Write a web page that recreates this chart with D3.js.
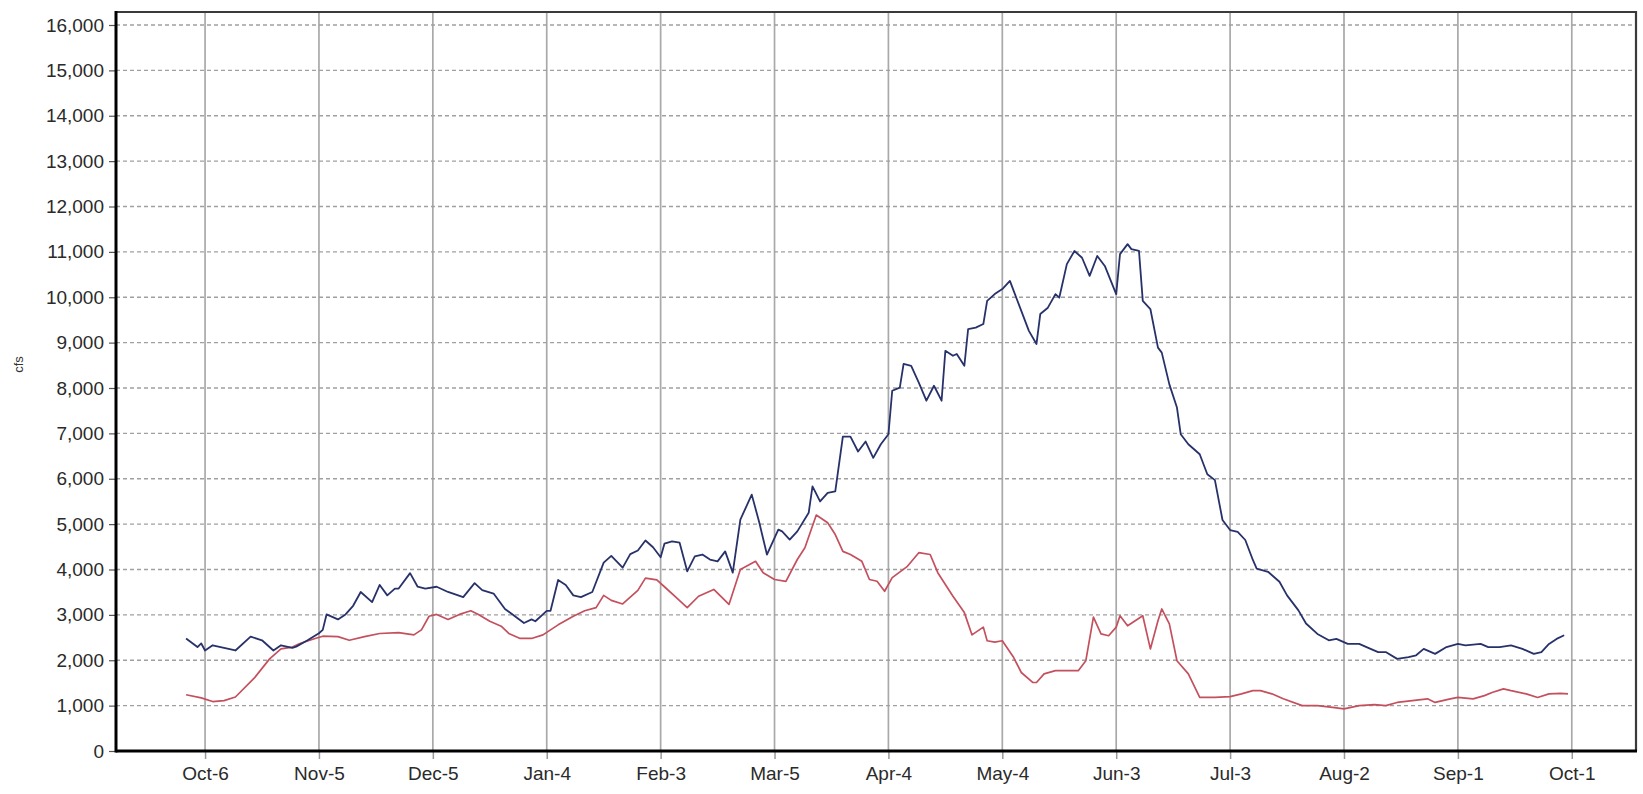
<!DOCTYPE html>
<html>
<head>
<meta charset="utf-8">
<script src="https://cdn.jsdelivr.net/npm/d3@7"></script>
<style>
  html, body { margin: 0; padding: 0; background: #ffffff; }
  svg { display: block; }
  text { font-family: "Liberation Sans", Arial, sans-serif; }
</style>
</head>
<body>
<svg id="chart" width="1643" height="794"></svg>
<script>
// Daily flow, water year 2011 (days counted from 2010-10-01)
const waterYearStart = "2010-10-01";

const flowADays = [0,3,4,5,7,13,17,20,23,25,28,29,32,35,36,37,40,42,44,46,49,51,53,55,56,59,61,63,66,69,73,76,78,81,84,86,89,91,92,95,96,98,100,102,104,107,110,112,115,117,119,121,123,125,126,128,130,132,134,136,138,140,142,144,146,149,151,153,156,157,159,161,164,165,167,169,171,173,175,177,179,181,183,185,186,188,189,191,193,195,197,199,200,202,203,205,206,208,210,211,213,215,217,218,220,222,224,225,227,229,230,232,234,236,238,240,242,245,246,248,249,251,252,254,256,257,259,261,262,264,267,269,271,273,275,277,279,281,282,285,288,290,293,295,298,301,303,306,309,312,314,316,319,322,324,326,329,332,335,337,341,343,346,349,352,355,357,359,361,363];
const flowAValues = [2480,2290,2370,2215,2330,2215,2520,2440,2215,2330,2275,2300,2440,2595,2670,3010,2900,3010,3200,3505,3280,3660,3430,3580,3580,3920,3620,3580,3620,3505,3390,3700,3545,3470,3130,3010,2820,2900,2860,3090,3090,3770,3660,3430,3390,3505,4150,4300,4040,4340,4420,4640,4490,4270,4570,4620,4590,3960,4290,4330,4220,4180,4400,3930,5100,5650,5030,4330,4880,4840,4660,4840,5250,5830,5500,5690,5720,6930,6930,6600,6820,6460,6760,6980,7940,8010,8530,8490,8120,7720,8050,7720,8820,8710,8750,8490,9300,9330,9410,9920,10070,10180,10360,10140,9700,9260,8970,9630,9770,10070,9990,10730,11020,10870,10470,10910,10690,10070,10950,11170,11060,11020,9920,9740,8890,8780,8080,7570,6980,6760,6540,6100,5970,5090,4870,4830,4650,4210,4020,3950,3730,3430,3100,2810,2580,2440,2470,2360,2360,2250,2180,2180,2030,2070,2110,2250,2140,2290,2360,2330,2360,2290,2290,2330,2250,2140,2180,2360,2470,2550];

const flowBDays = [0,4,7,10,13,18,22,25,28,30,34,36,40,43,47,51,56,60,62,64,66,69,72,75,77,80,83,85,88,91,94,96,98,102,105,108,110,112,115,119,121,124,126,129,132,135,139,143,146,150,152,155,158,161,163,166,169,171,173,175,178,180,182,184,186,190,193,196,198,202,205,207,210,211,213,215,218,220,223,224,226,229,232,235,237,239,241,243,245,246,248,250,252,254,256,257,259,261,264,267,271,275,278,281,283,286,289,294,298,302,305,309,313,316,319,323,327,329,333,335,339,342,344,347,349,353,356,359,362,364];
const flowBValues = [1240,1170,1090,1110,1190,1610,2030,2250,2290,2370,2480,2530,2520,2440,2520,2590,2610,2560,2670,2970,3010,2900,3010,3090,3010,2860,2750,2590,2480,2480,2560,2670,2780,2970,3090,3160,3430,3320,3240,3540,3810,3770,3620,3390,3160,3410,3560,3230,4000,4180,3930,3780,3740,4220,4480,5200,5030,4770,4400,4330,4180,3780,3740,3520,3820,4070,4370,4330,3930,3410,3050,2560,2730,2430,2400,2430,2060,1730,1510,1510,1700,1770,1770,1770,1990,2950,2580,2540,2730,2980,2760,2870,2980,2250,2870,3130,2800,1990,1700,1180,1180,1200,1260,1330,1330,1260,1150,1000,1000,960,930,1000,1020,1000,1070,1110,1150,1070,1150,1180,1150,1220,1290,1370,1330,1260,1180,1260,1270,1260];

// Month gridline positions (every 30 days)
const tickDates = ["2010-10-06","2010-11-05","2010-12-05","2011-01-04","2011-02-03","2011-03-05","2011-04-04","2011-05-04","2011-06-03","2011-07-03","2011-08-02","2011-09-01","2011-10-01"];
const yTickValues = [0,1000,2000,3000,4000,5000,6000,7000,8000,9000,10000,11000,12000,13000,14000,15000,16000];
const yAxisTitle = "cfs";

const parse = d3.utcParse("%Y-%m-%d");
const start = parse(waterYearStart);

const plot = { left: 116, right: 1636, top: 12, bottom: 751 };

const x = d3.scaleUtc()
  .domain([new Date(Date.UTC(2010, 8, 12, 13)), new Date(Date.UTC(2011, 9, 17, 22))])
  .range([plot.left, plot.right]);

const y = d3.scaleLinear()
  .domain([0, 16000])
  .range([plot.bottom, 25]);

const svg = d3.select("#chart");

// Vertical gridlines
svg.append("g")
  .selectAll("line")
  .data(tickDates.map(parse))
  .join("line")
  .attr("x1", d => x(d)).attr("x2", d => x(d))
  .attr("y1", plot.top).attr("y2", plot.bottom)
  .attr("stroke", "#a9a9a9")
  .attr("stroke-width", 1.7);

// Horizontal dashed gridlines
svg.append("g")
  .selectAll("line")
  .data(yTickValues.filter(v => v > 0))
  .join("line")
  .attr("x1", plot.left).attr("x2", plot.right)
  .attr("y1", d => y(d)).attr("y2", d => y(d))
  .attr("stroke", "#a0a0a0")
  .attr("stroke-width", 1.4)
  .attr("stroke-dasharray", "4,3");

// Plot frame (top and right)
svg.append("path")
  .attr("d", `M${plot.left},${plot.top}H${plot.right}V${plot.bottom}`)
  .attr("fill", "none")
  .attr("stroke", "#3a3a3a")
  .attr("stroke-width", 2.2);

// Series lines
const series = [
  { days: flowBDays, values: flowBValues, color: "#c4505e", width: 1.7 },
  { days: flowADays, values: flowAValues, color: "#27326a", width: 1.8 }
];

const line = d3.line()
  .x(d => x(d.date))
  .y(d => y(d.value));

series.forEach(s => {
  const pts = s.days.map((d, i) => ({ date: d3.utcDay.offset(start, d), value: s.values[i] }));
  svg.append("path")
    .datum(pts)
    .attr("fill", "none")
    .attr("stroke", s.color)
    .attr("stroke-width", s.width)
    .attr("stroke-linejoin", "round")
    .attr("d", line);
});

// Y axis
const yAxis = svg.append("g")
  .attr("transform", `translate(${plot.left},0)`)
  .call(d3.axisLeft(y).tickValues(yTickValues).tickFormat(d3.format(",")).tickSize(7).tickPadding(5));
yAxis.select(".domain").remove();
yAxis.selectAll(".tick line").attr("stroke", "#555").attr("stroke-width", 1.2);
yAxis.selectAll(".tick text")
  .attr("fill", "#2a2a2a")
  .style("font-size", "19px");

// X axis
const xAxis = svg.append("g")
  .attr("transform", `translate(0,${plot.bottom})`)
  .call(d3.axisBottom(x).tickValues(tickDates.map(parse)).tickFormat(d3.utcFormat("%b-%-d")).tickSize(8).tickPadding(8));
xAxis.select(".domain").remove();
xAxis.selectAll(".tick line").attr("stroke", "#999").attr("stroke-width", 1.5);
xAxis.selectAll(".tick text")
  .attr("fill", "#2a2a2a")
  .style("font-size", "19px");

// Heavy left and bottom axis lines
svg.append("line")
  .attr("x1", plot.left).attr("x2", plot.left)
  .attr("y1", plot.top - 1).attr("y2", plot.bottom + 1.5)
  .attr("stroke", "#000").attr("stroke-width", 3);
svg.append("line")
  .attr("x1", plot.left).attr("x2", plot.right + 1)
  .attr("y1", plot.bottom).attr("y2", plot.bottom)
  .attr("stroke", "#000").attr("stroke-width", 3);

// Y axis title
svg.append("text")
  .attr("transform", `translate(23,${(plot.top + plot.bottom) / 2 - 17}) rotate(-90)`)
  .attr("text-anchor", "middle")
  .attr("fill", "#333")
  .style("font-size", "13px")
  .text(yAxisTitle);
</script>
</body>
</html>
